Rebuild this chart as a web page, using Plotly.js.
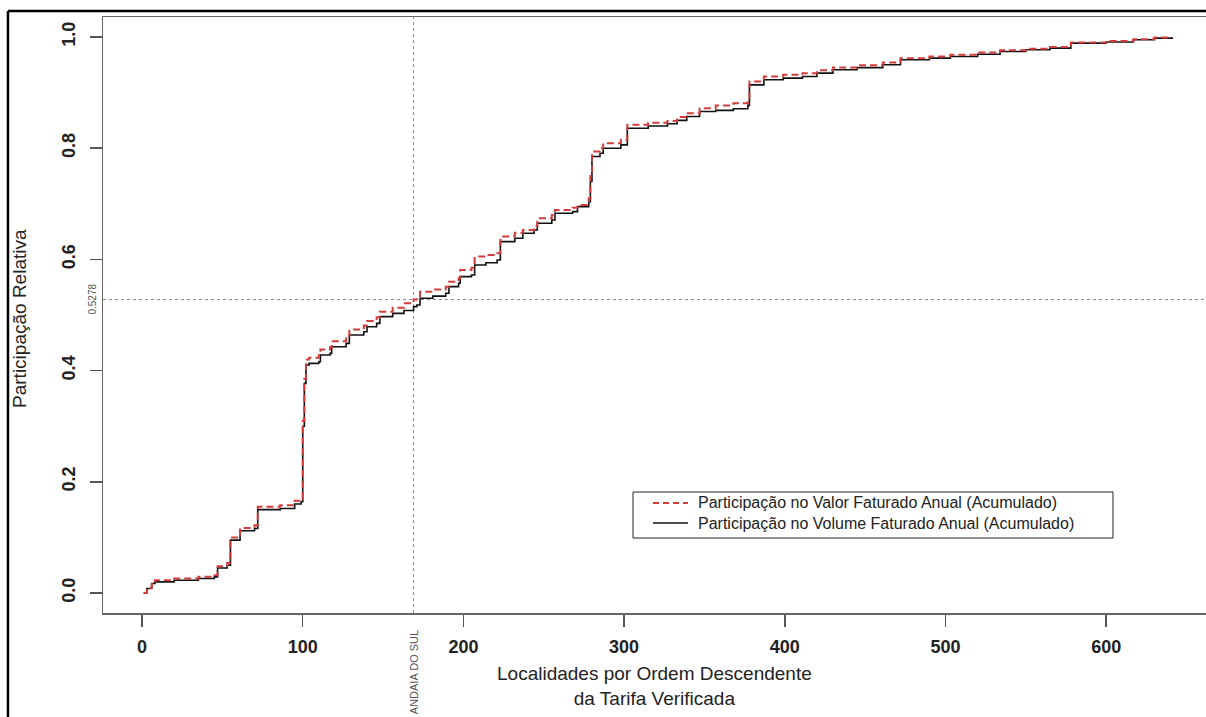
<!DOCTYPE html>
<html>
<head>
<meta charset="utf-8">
<script src="https://cdn.plot.ly/plotly-3.0.1.min.js"></script>
<style>
  html, body { margin: 0; padding: 0; background: #fff; overflow: hidden; }
  #chart { width: 1220px; height: 717px; }
</style>
</head>
<body>
<div id="chart"></div>
<script>
// Localities ranked by descending verified tariff (rank where a step occurs)
const rank = [1, 3, 6, 8, 20, 35, 45, 47, 53, 55, 61, 70, 72, 86, 95, 99, 100, 101, 102, 104,
  110, 111, 117, 118, 127, 129, 138, 140, 146, 148, 156, 163, 169, 171, 173, 181, 189, 191, 197, 198,
  205, 207, 214, 221, 223, 232, 237, 244, 246, 255, 257, 268, 271, 278, 279, 280, 285, 287, 298, 302,
  315, 327, 333, 339, 347, 357, 368, 377, 378, 387, 399, 411, 420, 430, 445, 461, 472, 490, 503, 520,
  534, 550, 565, 578, 600, 617, 630, 641];

// Cumulative share of annual billed volume
const volumeShare = [0.000, 0.008, 0.017, 0.020, 0.023, 0.026, 0.029, 0.045, 0.050, 0.095, 0.112, 0.116, 0.150, 0.152, 0.160, 0.164, 0.300, 0.377, 0.410, 0.413,
  0.416, 0.428, 0.431, 0.443, 0.449, 0.464, 0.470, 0.479, 0.485, 0.497, 0.503, 0.508, 0.515, 0.518, 0.530, 0.534, 0.539, 0.551, 0.557, 0.569,
  0.572, 0.590, 0.594, 0.599, 0.632, 0.638, 0.647, 0.653, 0.665, 0.671, 0.683, 0.686, 0.695, 0.704, 0.740, 0.785, 0.791, 0.800, 0.806, 0.836,
  0.840, 0.844, 0.850, 0.857, 0.866, 0.868, 0.871, 0.877, 0.914, 0.923, 0.926, 0.929, 0.935, 0.941, 0.945, 0.950, 0.959, 0.962, 0.965, 0.969,
  0.974, 0.977, 0.980, 0.989, 0.991, 0.995, 0.998, 1.000];

// Cumulative share of annual billed value
const valueShare = [0.000, 0.009, 0.019, 0.023, 0.026, 0.029, 0.032, 0.048, 0.054, 0.100, 0.117, 0.122, 0.155, 0.158, 0.166, 0.170, 0.310, 0.385, 0.420, 0.423,
  0.428, 0.438, 0.442, 0.453, 0.460, 0.474, 0.481, 0.489, 0.496, 0.506, 0.513, 0.521, 0.5278, 0.531, 0.542, 0.546, 0.551, 0.560, 0.566, 0.581,
  0.585, 0.605, 0.608, 0.611, 0.641, 0.648, 0.653, 0.660, 0.674, 0.680, 0.689, 0.693, 0.698, 0.710, 0.750, 0.794, 0.800, 0.809, 0.815, 0.842,
  0.846, 0.849, 0.856, 0.863, 0.872, 0.877, 0.881, 0.887, 0.920, 0.929, 0.932, 0.935, 0.940, 0.945, 0.949, 0.954, 0.962, 0.965, 0.968, 0.972,
  0.976, 0.979, 0.982, 0.990, 0.993, 0.996, 0.999, 1.000];

const xTicks = [0, 100, 200, 300, 400, 500, 600];
const yTicks = [0, 0.2, 0.4, 0.6, 0.8, 1.0];
const yTickText = ['0.0', '0.2', '0.4', '0.6', '0.8', '1.0'];

// Reference locality and its cumulative value share
const markRank = 169;
const markShare = 0.5278;
const markName = 'ANDAIA DO SUL';

const seriesNames = [
  'Participação no Volume Faturado Anual (Acumulado)',
  'Participação no Valor Faturado Anual (Acumulado)'
];
const seriesColors = ['#111111', '#d23c3c'];
const seriesDash = ['solid', '7px,4px'];
const seriesWidth = [1.6, 2];

const FONT = 'Liberation Sans, Arial, sans-serif';

const traces = seriesNames.map((name, i) => ({
  x: rank, y: i === 0 ? volumeShare : valueShare,
  type: 'scatter', mode: 'lines', name: name, showlegend: false,
  line: { color: seriesColors[i], width: seriesWidth[i], dash: seriesDash[i], shape: 'hv' }
}));

const axisCommon = {
  showgrid: false, zeroline: false,
  showline: true, mirror: true, linecolor: '#666', linewidth: 1.5,
  ticks: 'outside', ticklen: 12, tickwidth: 1.5, tickcolor: '#555',
  tickfont: { family: FONT, size: 18, color: '#222', weight: 'bold' }
};

// Legend box (paper coordinates), entries listed value first, volume second
const legendBox = { x0: 0.4775, x1: 0.9099, y0: 0.1258, y1: 0.2030 };
const legendRows = [0.1846, 0.1510];
const legendOrder = [1, 0];
const legendShapes = [
  { type: 'rect', xref: 'paper', yref: 'paper', x0: legendBox.x0, x1: legendBox.x1,
    y0: legendBox.y0, y1: legendBox.y1, line: { color: '#222', width: 1 }, fillcolor: '#ffffff' }
];
const legendLabels = [];
legendOrder.forEach((s, row) => {
  legendShapes.push({
    type: 'line', xref: 'paper', yref: 'paper', x0: 0.4955, x1: 0.527,
    y0: legendRows[row], y1: legendRows[row],
    line: { color: seriesColors[s], width: seriesWidth[s] - 0.2, dash: s === 1 ? '6px,4px' : 'solid' }
  });
  legendLabels.push({
    text: seriesNames[s], xref: 'paper', yref: 'paper', x: 0.5342, y: legendRows[row],
    xanchor: 'left', yanchor: 'middle', showarrow: false,
    font: { family: FONT, size: 16, color: '#222' }
  });
});

const layout = {
  width: 1220, height: 717,
  margin: { l: 103, r: 7, t: 17, b: 104 },
  paper_bgcolor: '#ffffff', plot_bgcolor: '#ffffff',
  showlegend: false,
  xaxis: Object.assign({}, axisCommon, {
    range: [-24.3, 666.5], tickvals: xTicks, ticktext: xTicks.map(String), ticklabelstandoff: 5
  }),
  yaxis: Object.assign({}, axisCommon, {
    range: [-0.036, 1.036], tickvals: yTicks, ticktext: yTickText, tickangle: -90, ticklabelstandoff: 7
  }),
  shapes: [
    { type: 'line', xref: 'x', yref: 'paper', x0: markRank, x1: markRank, y0: 0, y1: 1,
      line: { color: '#8a8a8a', width: 1, dash: 'dot' }, layer: 'below' },
    { type: 'line', xref: 'paper', yref: 'y', x0: 0, x1: 1, y0: markShare, y1: markShare,
      line: { color: '#8a8a8a', width: 1, dash: 'dot' }, layer: 'below' },
    // outer frame around the figure
    { type: 'line', xref: 'paper', yref: 'paper', x0: -0.0856, x1: -0.0856, y0: 1.0101, y1: -0.3,
      line: { color: '#000', width: 2.5 } },
    { type: 'line', xref: 'paper', yref: 'paper', x0: -0.0856, x1: 1.2, y0: 1.0101, y1: 1.0101,
      line: { color: '#000', width: 2.5 } }
  ].concat(legendShapes),
  annotations: [
    { text: 'Participação Relativa', xref: 'paper', yref: 'paper', x: -0.0748, y: 0.495,
      xanchor: 'center', yanchor: 'middle', textangle: -90, showarrow: false,
      font: { family: FONT, size: 19, color: '#222' } },
    { text: 'Localidades por Ordem Descendente<br>da Tarifa Verificada', xref: 'paper', yref: 'paper',
      x: 0.497, y: -0.1225, xanchor: 'center', yanchor: 'middle', showarrow: false,
      font: { family: FONT, size: 19, color: '#222' } },
    { text: markName, xref: 'x', yref: 'paper', x: markRank, y: -0.1,
      xanchor: 'center', yanchor: 'middle', textangle: -90, showarrow: false,
      font: { family: FONT, size: 11, color: '#555' } },
    { text: markShare.toFixed(4), xref: 'paper', yref: 'y', x: -0.009, y: markShare,
      xanchor: 'center', yanchor: 'middle', textangle: -90, showarrow: false,
      font: { family: FONT, size: 10, color: '#555' } }
  ].concat(legendLabels)
};

Plotly.newPlot('chart', traces, layout, { displayModeBar: false, staticPlot: true });
</script>
</body>
</html>
